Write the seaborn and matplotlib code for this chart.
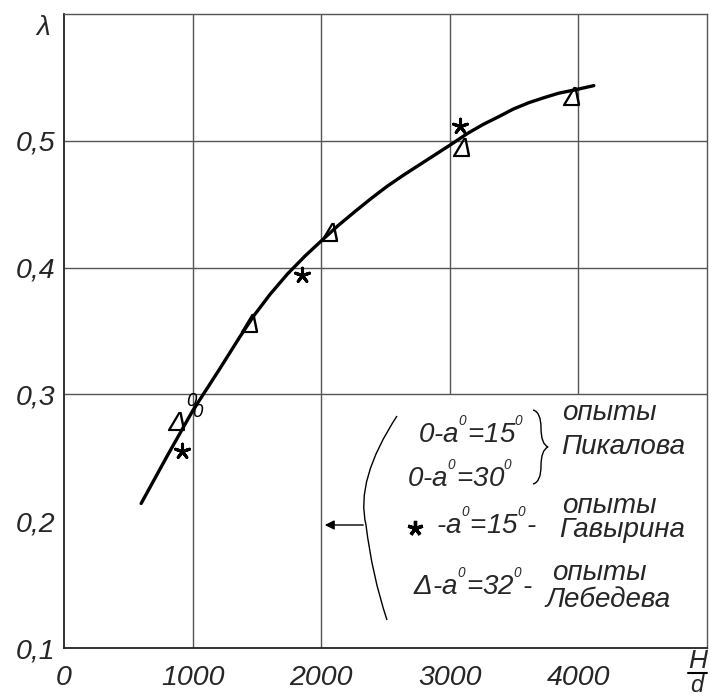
import matplotlib
matplotlib.use("Agg")
import matplotlib.pyplot as plt
import seaborn as sns
from matplotlib.path import Path
from matplotlib.patches import PathPatch, FancyArrowPatch
from matplotlib.lines import Line2D

# ---------------- data ----------------
curve_x = [600, 800, 1000, 1210, 1365, 1476, 1603, 1738, 1873, 2000, 2130, 2260, 2382,
           2511, 2641, 2763, 2893, 3000, 3141, 3261, 3380, 3493, 3613, 3732, 3845, 3965, 4120]
curve_y = [0.214, 0.251, 0.287, 0.320, 0.345, 0.362, 0.379, 0.395, 0.409, 0.421, 0.433,
           0.444, 0.454, 0.464, 0.473, 0.481, 0.4895, 0.4965, 0.506, 0.513, 0.519, 0.525,
           0.530, 0.534, 0.5375, 0.540, 0.5435]

lebedev_x = [871, 1437, 2061, 3085, 3944]          # triangles
lebedev_y = [0.279, 0.356, 0.428, 0.495, 0.535]

gavyrin_x = [920, 1849, 3077]                      # stars
gavyrin_y = [0.255, 0.394, 0.512]

pikalov_x = [992, 1040]                            # circles "0"
pikalov_y = [0.296, 0.288]

x_ticks = [0, 1000, 2000, 3000, 4000]
x_labels = ["0", "1000", "2000", "3000", "4000"]
y_ticks = [0.1, 0.2, 0.3, 0.4, 0.5]
y_labels = ["0,1", "0,2", "0,3", "0,4", "0,5"]

grid_h = [0.3, 0.4, 0.5]
grid_v_full = [1000, 2000]
grid_v_upper = [3000, 4000]

# ---------------- style ----------------
sns.set_style("white")
plt.rcParams["font.family"] = ["Liberation Sans", "DejaVu Sans"]
plt.rcParams["font.style"] = "italic"
plt.rcParams["mathtext.fontset"] = "custom"
plt.rcParams["mathtext.rm"] = "Liberation Sans:italic"
plt.rcParams["mathtext.it"] = "Liberation Sans:italic"
plt.rcParams["mathtext.sf"] = "Liberation Sans:italic"

W, H = 710, 696
fig = plt.figure(figsize=(W / 100, H / 100), dpi=100)


def px(x, y):
    return x / W, 1 - y / H


L, R, T, B = 64, 707, 14, 648
ax = fig.add_axes([L / W, 1 - B / H, (R - L) / W, (B - T) / H])
ax.set_xlim(0, 5000)
ax.set_ylim(0.1, 0.6)

grid_col = "#555555"
for s in ["top", "right"]:
    ax.spines[s].set_color(grid_col)
    ax.spines[s].set_linewidth(1.0)
for s in ["left", "bottom"]:
    ax.spines[s].set_color("#222222")
    ax.spines[s].set_linewidth(1.3)

ax.hlines(grid_h, 0, 5000, color=grid_col, lw=1.0, zorder=1)
ax.vlines(grid_v_full, 0.1, 0.6, color=grid_col, lw=1.0, zorder=1)
ax.vlines(grid_v_upper, 0.3, 0.6, color=grid_col, lw=1.0, zorder=1)

# curve
sns.lineplot(x=curve_x, y=curve_y, sort=False, color="black", lw=2.4, ax=ax, zorder=3)

# markers
sns.scatterplot(x=lebedev_x, y=lebedev_y, marker="$Δ$", s=190, color="black",
                linewidth=0, ax=ax, zorder=4)
sns.scatterplot(x=gavyrin_x, y=gavyrin_y, marker=(5, 2, 0), s=110, color="black",
                linewidth=2.2, ax=ax, zorder=4)
sns.scatterplot(x=pikalov_x, y=pikalov_y, marker="$0$", s=90, color="black",
                linewidth=0, ax=ax, zorder=4)

# ticks
ax.set_xticks(x_ticks)
ax.set_xticklabels(x_labels)
ax.set_yticks(y_ticks)
ax.set_yticklabels(y_labels)
for lbl in ax.get_xticklabels() + ax.get_yticklabels():
    lbl.set_fontstyle("italic")
    lbl.set_fontsize(20.5)
    lbl.set_fontfamily(["Liberation Sans", "DejaVu Sans"])
ax.tick_params(axis="x", length=0, pad=12)
ax.tick_params(axis="y", length=0, pad=6)
ax.set_xlabel("")
ax.set_ylabel("")

# axis symbols
fig.text(*px(43, 28), "λ", fontsize=20, style="italic", ha="center", va="center")
fig.text(*px(698, 661), "H", fontsize=19, style="italic", ha="center", va="center")
fig.add_artist(Line2D([688 / W, 707 / W], [1 - 673 / H, 1 - 673 / H], color="black", lw=1.5))
fig.text(*px(697, 686), "d", fontsize=17, style="italic", ha="center", va="center")

# ---------------- legend annotation ----------------
fs = 20
sup = "$^{^0}$"
fig.text(*px(418, 433), "0-a" + sup + "=15" + sup, fontsize=fs, ha="left", va="center")
fig.text(*px(407, 477), "0-a" + sup + "=30" + sup, fontsize=fs, ha="left", va="center")
fig.text(*px(436, 524), "-a" + sup + "=15" + sup + "-", fontsize=fs, ha="left", va="center")
fig.text(*px(413, 585), "Δ-a" + sup + "=32" + sup + "-", fontsize=fs, ha="left", va="center")
fig.add_artist(Line2D([415 / W], [1 - 528 / H], marker=(5, 2, 0), ms=11, mew=2.4,
                      color="black", transform=fig.transFigure))

fig.text(*px(562, 413), "опыты", fontsize=fs, ha="left", va="center")
fig.text(*px(561, 447), "Пикалова", fontsize=fs, ha="left", va="center")
fig.text(*px(562, 506), "опыты", fontsize=fs, ha="left", va="center")
fig.text(*px(559, 530), "Гавырина", fontsize=fs, ha="left", va="center")
fig.text(*px(552, 573), "опыты", fontsize=fs, ha="left", va="center")
fig.text(*px(545, 600), "Лебедева", fontsize=fs, ha="left", va="center")

# big parenthesis
paren = Path([px(397, 416), px(355, 480), px(366, 525), px(372, 575), px(387, 620)],
             [Path.MOVETO, Path.CURVE3, Path.CURVE3, Path.CURVE3, Path.CURVE3])
fig.add_artist(PathPatch(paren, fill=False, lw=1.0, color="black",
                         transform=fig.transFigure))
# arrow
fig.add_artist(FancyArrowPatch(px(366, 525), px(322, 525),
               arrowstyle="-|>", mutation_scale=14, lw=1.0, color="black",
               transform=fig.transFigure))
# brace
brace = Path([px(533, 410), px(541, 412), px(541, 428), px(541, 444), px(548, 447),
              px(541, 450), px(541, 466), px(541, 482), px(533, 484)],
             [Path.MOVETO, Path.CURVE3, Path.CURVE3, Path.CURVE3, Path.CURVE3,
              Path.CURVE3, Path.CURVE3, Path.CURVE3, Path.CURVE3])
fig.add_artist(PathPatch(brace, fill=False, lw=1.0, color="black",
                         transform=fig.transFigure))

fig.savefig("out.png", dpi=100)
